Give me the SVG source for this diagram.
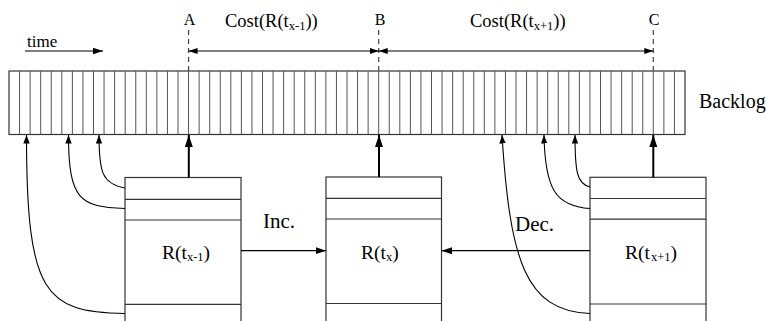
<svg xmlns="http://www.w3.org/2000/svg" width="767" height="321" viewBox="0 0 767 321">
<defs>
<style>
text{font-family:"Liberation Serif","Times New Roman",serif;fill:#000}
.lbl{font-size:16px}
.big{font-size:18.5px}
.sub{font-size:12.5px}
.box{fill:#fff;stroke:#333;stroke-width:1.2}
.div{stroke:#333;stroke-width:1.2;fill:none}
.cell{stroke:#555;stroke-width:1;fill:none}
.dash{stroke:#444;stroke-width:1.2;stroke-dasharray:5,4;fill:none}
.ar{stroke:#000;stroke-width:1.2;fill:none}
.thick{stroke:#000;stroke-width:2;fill:none}
.cv{stroke:#000;stroke-width:1.1;fill:none}
</style>
<marker id="ah" markerUnits="userSpaceOnUse" markerWidth="11" markerHeight="8" refX="10.5" refY="4" orient="auto"><path d="M0,0.5L10.5,4L0,7.5z" fill="#000"/></marker>
<marker id="ahs" markerUnits="userSpaceOnUse" markerWidth="10" markerHeight="8" refX="9" refY="3.5" orient="auto-start-reverse"><path d="M0,0.5L9,3.5L0,6.5z" fill="#000"/></marker>
<marker id="ahb" markerUnits="userSpaceOnUse" markerWidth="13" markerHeight="10" refX="12" refY="4.5" orient="auto"><path d="M0,0.5L12,4.5L0,8.5z" fill="#000"/></marker>
<marker id="ahc" markerUnits="userSpaceOnUse" markerWidth="9" markerHeight="7" refX="8.5" refY="3.2" orient="auto"><path d="M0,0L8.5,3.2L0,6.4z" fill="#000"/></marker>
</defs>

<g id="backlog">
<rect x="9" y="71" width="676" height="63.5" fill="#fff" stroke="#333" stroke-width="1.2"/>
<path class="cell" d="M19.56,71V134.5M30.13,71V134.5M40.69,71V134.5M51.25,71V134.5M61.81,71V134.5M72.38,71V134.5M82.94,71V134.5M93.5,71V134.5M104.06,71V134.5M114.63,71V134.5M125.19,71V134.5M135.75,71V134.5M146.31,71V134.5M156.88,71V134.5M167.44,71V134.5M178,71V134.5M188.56,71V134.5M199.13,71V134.5M209.69,71V134.5M220.25,71V134.5M230.81,71V134.5M241.38,71V134.5M251.94,71V134.5M262.5,71V134.5M273.06,71V134.5M283.63,71V134.5M294.19,71V134.5M304.75,71V134.5M315.31,71V134.5M325.88,71V134.5M336.44,71V134.5M347,71V134.5M357.56,71V134.5M368.13,71V134.5M378.69,71V134.5M389.25,71V134.5M399.81,71V134.5M410.38,71V134.5M420.94,71V134.5M431.5,71V134.5M442.06,71V134.5M452.63,71V134.5M463.19,71V134.5M473.75,71V134.5M484.31,71V134.5M494.88,71V134.5M505.44,71V134.5M516,71V134.5M526.56,71V134.5M537.13,71V134.5M547.69,71V134.5M558.25,71V134.5M568.81,71V134.5M579.38,71V134.5M589.94,71V134.5M600.5,71V134.5M611.06,71V134.5M621.63,71V134.5M632.19,71V134.5M642.75,71V134.5M653.31,71V134.5M663.88,71V134.5M674.44,71V134.5"/>
<text x="699" y="107.5" style="font-size:20px">Backlog</text>
</g>

<g id="markers-top">
<text class="lbl" x="189.5" y="25" text-anchor="middle">A</text>
<text class="lbl" x="380" y="25" text-anchor="middle">B</text>
<text class="lbl" x="654" y="25" text-anchor="middle">C</text>
<path class="dash" d="M188.56,30V71M378.69,30V71M653.31,30V71"/>
<text x="27" y="47" style="font-size:17px">time</text>
<text class="big" x="225" y="26.5">Cost(R(t<tspan class="sub" dy="3">x-1</tspan><tspan dy="-3">))</tspan></text>
<text class="big" x="470" y="26.5">Cost(R(t<tspan class="sub" dy="3">x+1</tspan><tspan dy="-3">))</tspan></text>
</g>

<g id="box1">
<rect class="box" x="125" y="177.5" width="116" height="155"/>
<path class="div" d="M125,199.3H241M125,220H241M125,304.3H241"/>
<text x="162" y="259" style="font-size:19.5px">R(t<tspan class="sub" dy="2">x-1</tspan><tspan dy="-2">)</tspan></text>
</g>
<g id="box2">
<rect class="box" x="326" y="177" width="115.5" height="155"/>
<path class="div" d="M326,198.3H441.5M326,219H441.5M326,303.5H441.5"/>
<text x="361" y="259" style="font-size:19.5px">R(t<tspan class="sub" dy="2">x</tspan><tspan dy="-2">)</tspan></text>
</g>
<g id="box3">
<rect class="box" x="590" y="177.3" width="116" height="155"/>
<path class="div" d="M590,198.5H706M590,219.2H706M590,304H706"/>
<text x="625" y="259" style="font-size:19.5px">R(t<tspan class="sub" dx="1" dy="2">x+1</tspan><tspan dy="-2">)</tspan></text>
</g>

<g id="connectors">
<path class="ar" d="M25,51H103" marker-end="url(#ah)"/>
<path class="ar" d="M188.56,51H378.69" marker-start="url(#ahs)" marker-end="url(#ahs)"/>
<path class="ar" d="M378.69,51H653.31" marker-start="url(#ahs)" marker-end="url(#ahs)"/>
<path class="thick" d="M188.8,177.5V135" marker-end="url(#ahb)"/>
<path class="thick" d="M379,177V135" marker-end="url(#ahb)"/>
<path class="thick" d="M653.3,177.3V135" marker-end="url(#ahb)"/>
<path class="ar" d="M241,250.7H326" marker-end="url(#ah)"/>
<path class="ar" d="M590,250.7H441.5" marker-end="url(#ah)"/>
<path class="cv" d="M125,188C102,184 99,172 99,135" marker-end="url(#ahc)"/>
<path class="cv" d="M125,208.5C80,207 68.5,200 68.5,135" marker-end="url(#ahc)"/>
<path class="cv" d="M125,313.5C45,312 26.5,295 26.5,135" marker-end="url(#ahc)"/>
<path class="cv" d="M590,187C577,184 575,172 575,135" marker-end="url(#ahc)"/>
<path class="cv" d="M590,208.5C556,206 545,190 544,135" marker-end="url(#ahc)"/>
<path class="cv" d="M590,313.5C525,311 510,260 502,135" marker-end="url(#ahc)"/>
<text x="263" y="228.3" style="font-size:21px">Inc.</text>
<text x="515" y="230.5" style="font-size:21px">Dec.</text>
</g>
</svg>
